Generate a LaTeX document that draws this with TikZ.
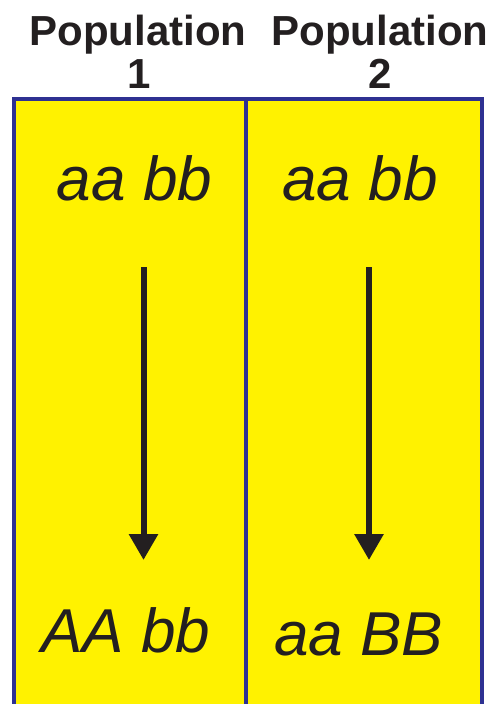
\documentclass[tikz,border=0pt]{standalone}
\usepackage{fontspec}
\setmainfont{Liberation Sans}
\usetikzlibrary{arrows.meta}
\definecolor{boxyellow}{HTML}{FFF200}
\definecolor{boxblue}{HTML}{2E3192}
\definecolor{txt}{HTML}{231F20}
\tikzset{
  header/.style={font=\fontsize{42}{43}\selectfont\bfseries, text=txt, anchor=base, inner sep=0pt},
  geno/.style={font=\fontsize{62}{64}\selectfont\itshape, text=txt, anchor=base, inner sep=0pt},
  evo/.style={line width=6pt, txt, -{Triangle[width=28pt,length=26pt]}}
}
\begin{document}
\begin{tikzpicture}[x=1pt,y=1pt]
\useasboundingbox (0,0) rectangle (493,-704);
\fill[boxyellow] (14,-99) rectangle (482,-704);
\draw[boxblue, line width=4pt] (14,-704) -- (14,-99) -- (482,-99) -- (482,-704);
\draw[boxblue, line width=4pt] (246,-99) -- (246,-704);
\node[header] (h1) at (138,-45) {Population};
\node[header] (h1n) at (139,-88) {1};
\node[header] (h2) at (380,-45) {Population};
\node[header] (h2n) at (380,-88) {2};
\node[geno] (t1) at (134.5,-200) {aa bb};
\node[geno] (t2) at (360,-200) {aa bb};
\node[geno] (b1) at (126,-652) {AA bb};
\node[geno] (b2) at (358.5,-655) {aa BB};
\coordinate (a1s) at (143.5,-267);
\coordinate (a1e) at (143.5,-560);
\coordinate (a2s) at (369,-267);
\coordinate (a2e) at (369,-560);
\draw[evo] (a1s) -- (a1e);
\draw[evo] (a2s) -- (a2e);
\end{tikzpicture}
\end{document}
